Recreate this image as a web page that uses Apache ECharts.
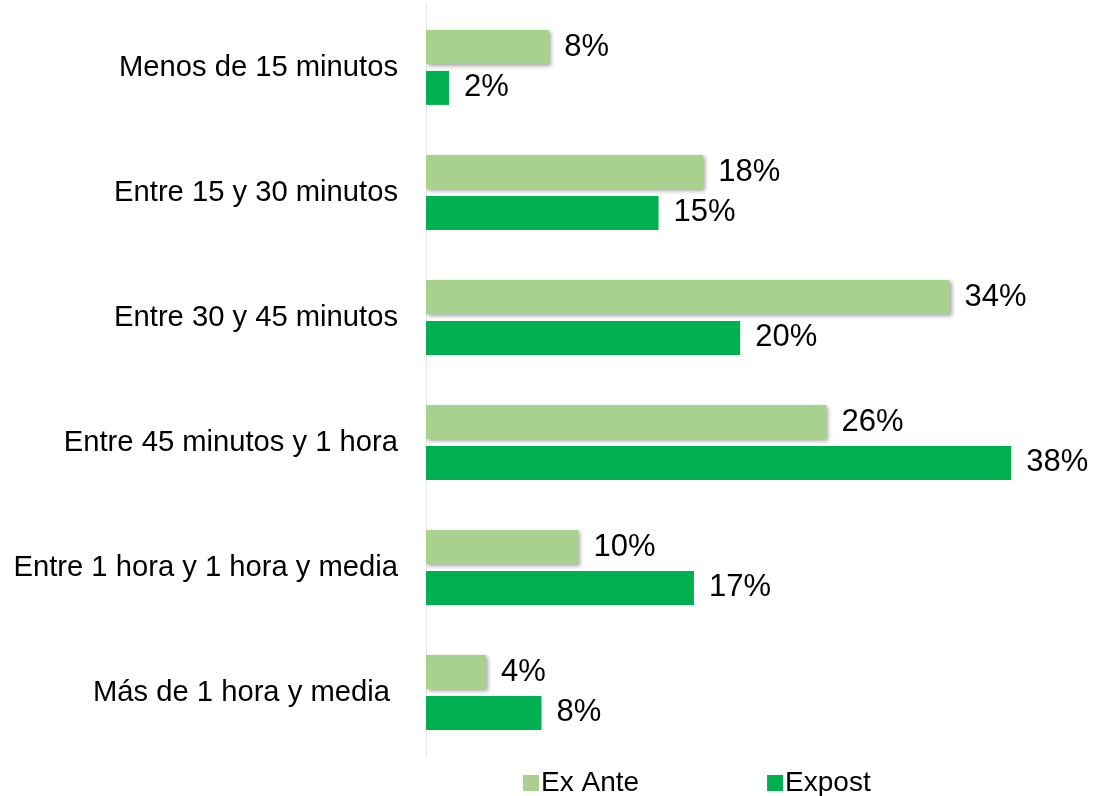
<!DOCTYPE html>
<html>
<head>
<meta charset="utf-8">
<script src="https://cdn.jsdelivr.net/npm/echarts@6/dist/echarts.min.js"></script>
<style>
html,body{margin:0;padding:0;background:#fff;}
#chart{width:1094px;height:796px;}
</style>
</head>
<body>
<div id="chart"></div>
<script>
const categories = [
  'Menos de 15 minutos',
  'Entre 15 y 30 minutos',
  'Entre 30 y 45 minutos',
  'Entre 45 minutos y 1 hora',
  'Entre 1 hora y 1 hora y media',
  'Más de 1 hora y media '
];
const exAnte = [8.0, 18.0, 34.0, 26.0, 9.9, 3.9];
const expost = [1.5, 15.1, 20.4, 38.0, 17.4, 7.5];
const seriesNames = ['Ex Ante', 'Expost'];

const font = 'Liberation Sans, Arial, sans-serif';
const chart = echarts.init(document.getElementById('chart'));
const labelCfg = {
  show: true,
  position: 'right',
  distance: 15,
  color: '#000',
  fontSize: 31,
  fontFamily: font,
  formatter: p => Math.round(p.value) + '%'
};
chart.setOption({
  animation: false,
  grid: {left: 426, top: 5, bottom: 41, width: 616},
  legend: {
    left: 518,
    top: 764,
    itemWidth: 16,
    itemHeight: 16,
    itemGap: 128,
    icon: 'rect',
    textStyle: {fontSize: 28, fontFamily: font, color: '#000', padding: [0, 0, 0, -3]},
    data: seriesNames
  },
  xAxis: {type: 'value', min: 0, max: 40, show: false},
  yAxis: {
    type: 'category',
    inverse: true,
    data: categories,
    axisLine: {show: true, lineStyle: {color: '#E6E6E6', width: 1}},
    axisTick: {show: false},
    axisLabel: {fontSize: 29.2, fontFamily: font, color: '#000', margin: 28, padding: [4, 0, 0, 0]}
  },
  series: [
    {
      name: seriesNames[0],
      type: 'bar',
      data: exAnte,
      barWidth: 34,
      barGap: '20%',
      itemStyle: {
        color: '#A9D18E',
        shadowColor: 'rgba(0,0,0,0.35)',
        shadowBlur: 4,
        shadowOffsetX: 2,
        shadowOffsetY: 2
      },
      label: labelCfg
    },
    {
      name: seriesNames[1],
      type: 'bar',
      data: expost,
      barWidth: 34,
      barGap: '20%',
      itemStyle: {color: '#00B050'},
      label: labelCfg
    }
  ]
});
</script>
</body>
</html>
